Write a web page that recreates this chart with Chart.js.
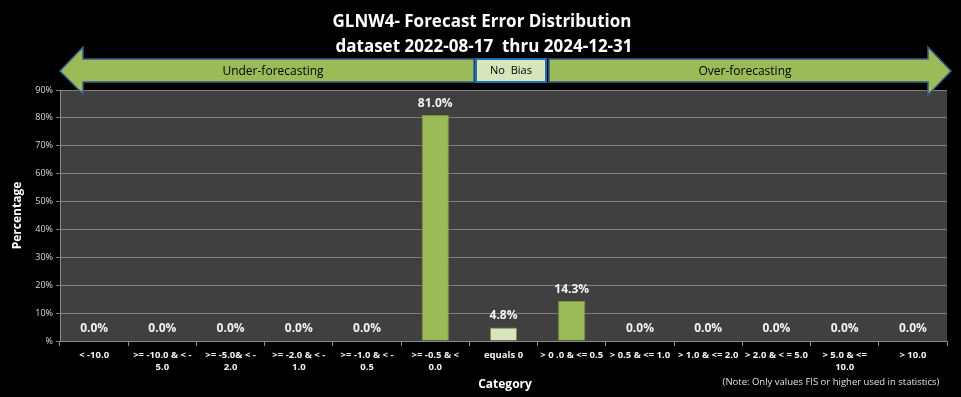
<!DOCTYPE html>
<html>
<head>
<meta charset="utf-8">
<script src="https://cdn.jsdelivr.net/npm/chart.js@4"></script>
<style>
  html, body { margin: 0; padding: 0; background: #000; }
  #wrap { width: 961px; height: 397px; position: relative; }
</style>
</head>
<body>
<div id="wrap"><canvas id="errChart" width="961" height="397"></canvas></div>
<script>
// category labels (two lines where Excel wrapped them)
const categories = [
  ["< -10.0"],
  [">= -10.0 & < -", "5.0"],
  [">= -5.0& < -", "2.0"],
  [">= -2.0 & < -", "1.0"],
  [">= -1.0 & < -", "0.5"],
  [">= -0.5 & <", "0.0"],
  ["equals 0"],
  ["> 0 .0 & <= 0.5"],
  ["> 0.5 & <= 1.0"],
  ["> 1.0 & <= 2.0"],
  ["> 2.0 & < = 5.0"],
  ["> 5.0 & <=", "10.0"],
  ["> 10.0"]
];
const percentValues = [0, 0, 0, 0, 0, 81.0, 4.8, 14.3, 0, 0, 0, 0, 0];
const yTicks = [0, 10, 20, 30, 40, 50, 60, 70, 80, 90];
const titleLines = ["GLNW4- Forecast Error Distribution", "dataset 2022-08-17  thru 2024-12-31"];

const FONT = "'Open Sans', sans-serif";
const green = "#9bbb59";
const paleGreen = "#d7e4bc";

// bevel-ish shading on each bar, the "equals 0" bar is the pale one
function barFill(c) {
  const chart = c.chart;
  const el = chart.getDatasetMeta(0).data[c.dataIndex];
  const pale = c.dataIndex === 6;
  const flat = pale ? paleGreen : green;
  if (!el || !Number.isFinite(el.x) || !Number.isFinite(el.width) || el.width <= 0) return flat;
  const half = el.width / 2;
  const g = chart.ctx.createLinearGradient(el.x - half, 0, el.x + half, 0);
  g.addColorStop(0, pale ? "#c3d3a0" : "#89a84c");
  g.addColorStop(0.15, pale ? "#e2ecce" : "#a3c462");
  g.addColorStop(0.85, pale ? "#e2ecce" : "#a3c462");
  g.addColorStop(1, pale ? "#c3d3a0" : "#89a84c");
  return g;
}

// dark plot background + titles + the arrow banner
const decor = {
  id: "decor",
  beforeDraw(chart) {
    const { ctx, chartArea: a } = chart;
    ctx.save();
    ctx.fillStyle = "#000";
    ctx.fillRect(0, 0, chart.width, chart.height);
    ctx.fillStyle = "#404040";
    ctx.fillRect(a.left, a.top, a.right - a.left, a.bottom - a.top);
    ctx.restore();
  },
  afterDatasetsDraw(chart) {
    const { ctx } = chart;
    const meta = chart.getDatasetMeta(0);
    ctx.save();
    ctx.fillStyle = "#f2f2f2";
    ctx.font = "bold 12px " + FONT;
    ctx.textAlign = "center";
    ctx.textBaseline = "bottom";
    meta.data.forEach((bar, i) => {
      ctx.fillText(percentValues[i].toFixed(1) + "%", bar.x, bar.y - 6);
    });
    ctx.restore();
  },
  afterDraw(chart) {
    const { ctx } = chart;
    ctx.save();
    // titles
    ctx.fillStyle = "#fff";
    ctx.font = "bold 17px " + FONT;
    ctx.textAlign = "center";
    ctx.textBaseline = "middle";
    ctx.fillText(titleLines[0], 482, 22);
    ctx.fillText(titleLines[1], 484, 47);

    // arrows
    ctx.fillStyle = green;
    ctx.strokeStyle = "#385d8a";
    ctx.lineWidth = 1.5;
    ctx.beginPath();
    ctx.moveTo(60, 71);
    ctx.lineTo(83, 47);
    ctx.lineTo(83, 59);
    ctx.lineTo(474, 59);
    ctx.lineTo(474, 82);
    ctx.lineTo(83, 82);
    ctx.lineTo(83, 94);
    ctx.closePath();
    ctx.fill();
    ctx.stroke();

    ctx.beginPath();
    ctx.moveTo(951, 71);
    ctx.lineTo(928, 47);
    ctx.lineTo(928, 59);
    ctx.lineTo(549, 59);
    ctx.lineTo(549, 82);
    ctx.lineTo(928, 82);
    ctx.lineTo(928, 95);
    ctx.closePath();
    ctx.fill();
    ctx.stroke();

    // no bias box
    ctx.fillStyle = paleGreen;
    ctx.strokeStyle = "#1f6fb5";
    ctx.lineWidth = 2;
    ctx.fillRect(476, 59, 70, 23);
    ctx.strokeRect(476, 59, 70, 23);

    ctx.fillStyle = "#000";
    ctx.font = "11px " + FONT;
    ctx.fillText("No  Bias", 511, 71);
    ctx.font = "12px " + FONT;
    ctx.fillText("Under-forecasting", 273, 72);
    ctx.fillText("Over-forecasting", 745, 72);

    // axis title and note
    ctx.fillStyle = "#fff";
    ctx.font = "bold 12px " + FONT;
    ctx.fillText("Category", 505, 385);
    ctx.font = "9.5px " + FONT;
    ctx.fillStyle = "#e0e0e0";
    ctx.fillText("(Note: Only values FIS or higher used in statistics)", 831, 382);
    ctx.restore();
  }
};

new Chart(document.getElementById("errChart"), {
  type: "bar",
  data: {
    labels: categories,
    datasets: [
      {
        data: percentValues,
        backgroundColor: barFill,
        borderColor: "#77933c",
        borderWidth: 1,
        barPercentage: 0.4,
        categoryPercentage: 1.0
      }
    ]
  },
  options: {
    responsive: false,
    animation: false,
    layout: { padding: { top: 90, right: 14, left: 10, bottom: 0 } },
    scales: {
      x: {
        afterFit: (s) => { s.height = 56; },
        grid: {
          drawOnChartArea: false,
          drawTicks: true,
          tickLength: 5,
          color: "#8c8c8c"
        },
        border: { color: "#8c8c8c" },
        ticks: {
          color: "#f2f2f2",
          font: { family: FONT, size: 9.5, weight: "bold" },
          maxRotation: 0,
          autoSkip: false,
          padding: 4
        }
      },
      y: {
        min: 0,
        max: 90,
        afterFit: (s) => { s.width = 50; },
        afterBuildTicks: (s) => { s.ticks = yTicks.map((v) => ({ value: v })); },
        grid: { color: "#7f7f7f", tickLength: 4 },
        border: { color: "#8c8c8c" },
        ticks: {
          color: "#d9d9d9",
          font: { family: FONT, size: 9 },
          padding: 3,
          callback: (v) => (v === 0 ? "%" : v + "%")
        },
        title: {
          display: true,
          text: "Percentage",
          color: "#fff",
          font: { family: FONT, size: 12, weight: "bold" },
          padding: 0
        }
      }
    },
    plugins: {
      legend: { display: false },
      title: { display: false },
      tooltip: { enabled: false }
    }
  },
  plugins: [decor]
});
</script>
</body>
</html>
